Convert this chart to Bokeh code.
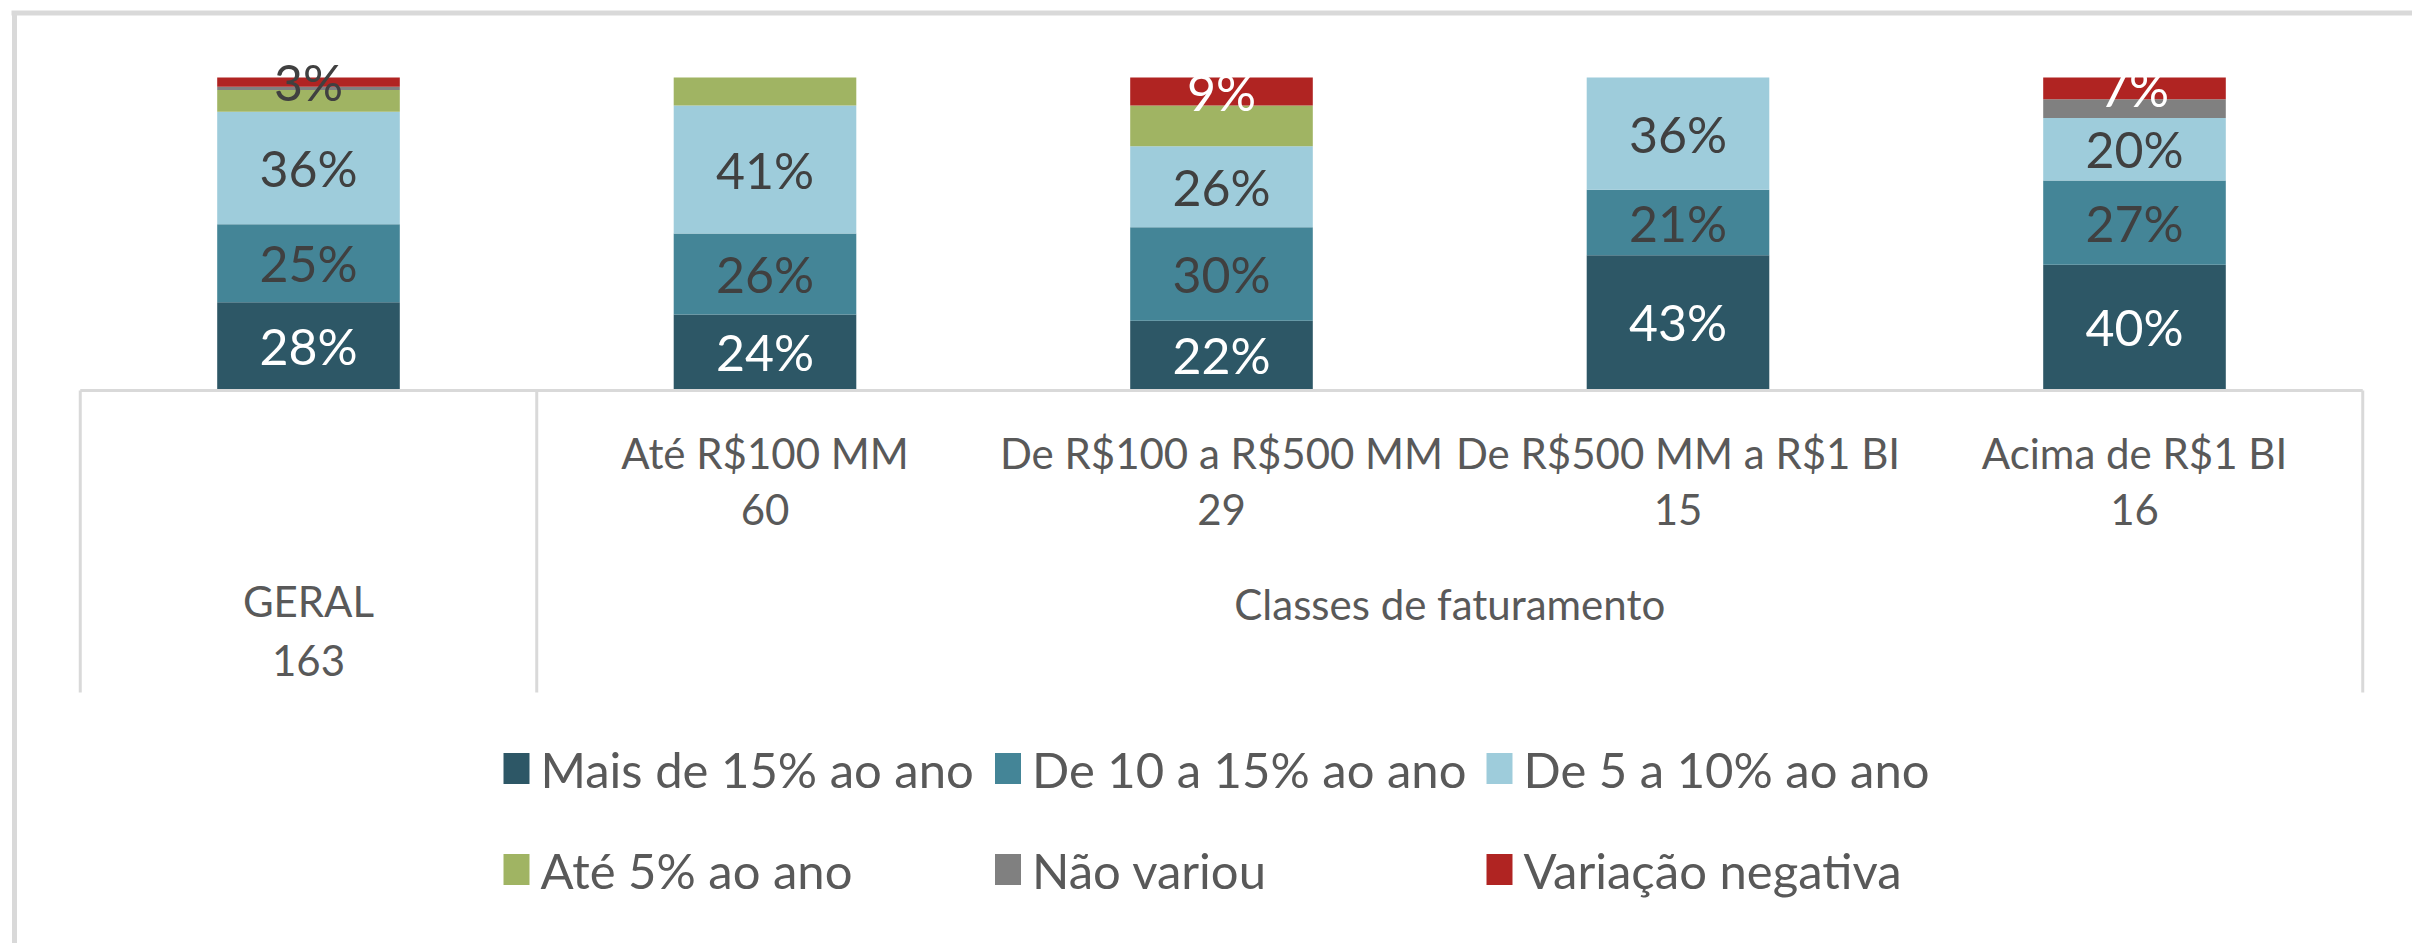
from bokeh.plotting import figure
from bokeh.models import ColumnDataSource, Range1d
from bokeh.core.properties import value
from bokeh.embed import file_html
from bokeh.resources import INLINE

# ---------------- data ----------------
categories = ["GERAL", "Até R$100 MM", "De R$100 a R$500 MM",
              "De R$500 MM a R$1 BI", "Acima de R$1 BI"]
counts = [163, 60, 29, 15, 16]
group_label = "Classes de faturamento"

series_names = ["Mais de 15% ao ano", "De 10 a 15% ao ano", "De 5 a 10% ao ano",
                "Até 5% ao ano", "Não variou", "Variação negativa"]
mais_15 = [28, 24, 22, 43, 40]
de_10_15 = [25, 26, 30, 21, 27]
de_5_10 = [36, 41, 26, 36, 20]
ate_5 = [7, 9, 13, 0, 0]
nao_variou = [1, 0, 0, 0, 6]
negativa = [3, 0, 9, 0, 7]

colors = ["#2D5766", "#448597", "#9ECCDB", "#A0B463", "#808080", "#B02422"]
# which series carry data labels, and the label colour per bar
labelled = {0: ["#FFFFFF"] * 5,
            1: ["#404040"] * 5,
            2: ["#404040"] * 5,
            5: ["#404040", "#FFFFFF", "#FFFFFF", "#FFFFFF", "#FFFFFF"]}

FONT = "Lato"
GRAY_TXT = "#595959"
LINE_GRAY = "#D9D9D9"

# ---------------- geometry ----------------
W, H = 2412, 943
XPX = 456.5          # pixels per category
X0PX = 308.0         # pixel position of first category centre
YPX = 3.12           # pixels per percentage point
Y0PX = 389.0         # pixel position of 0 %

x_start = -X0PX / XPX
x_end = x_start + W / XPX
y_top = Y0PX / YPX
y_bot = y_top - H / YPX


def dx(px):
    return x_start + px / XPX


def dy(py):
    return y_top - py / YPX


p = figure(width=W, height=H, output_backend="svg", toolbar_location=None,
           x_range=Range1d(x_start, x_end), y_range=Range1d(y_bot, y_top),
           x_axis_type=None, y_axis_type=None, min_border=0)
p.grid.visible = False
p.outline_line_color = None
p.background_fill_color = "white"
p.border_fill_color = "white"

# ---------------- stacked bars ----------------
xs = list(range(len(categories)))
keys = ["s0", "s1", "s2", "s3", "s4", "s5"]
data = dict(x=xs)
for k, vals in zip(keys, [mais_15, de_10_15, de_5_10, ate_5, nao_variou, negativa]):
    data[k] = vals
src = ColumnDataSource(data)
p.vbar_stack(keys, x="x", width=0.4, color=colors, line_color=None, source=src)

# data labels
all_vals = [mais_15, de_10_15, de_5_10, ate_5, nao_variou, negativa]
lx, ly, lt, lc = [], [], [], []
for j in range(len(categories)):
    base = 0
    for si, vals in enumerate(all_vals):
        v = vals[j]
        if si in labelled and v > 0:
            lx.append(j)
            ly.append(base + v / 2)
            lt.append(f"{v}%")
            lc.append(labelled[si][j])
        base += v
p.text(x=lx, y=ly, text=lt, text_color=lc, text_font=value(FONT),
       text_font_size="50px", text_align="center", text_baseline="middle")

# ---------------- frame / axis lines ----------------
p.line([dx(11), dx(W)], [dy(12.5), dy(12.5)], line_color=LINE_GRAY, line_width=5)
p.line([dx(14), dx(14)], [dy(12.5), dy(H)], line_color=LINE_GRAY, line_width=5)

axis_y = dy(390)
p.line([-0.5, len(categories) - 0.5], [axis_y, axis_y], line_color=LINE_GRAY, line_width=3)
for bx in [-0.5, 0.5, len(categories) - 0.5]:
    p.line([bx, bx], [axis_y, dy(692)], line_color=LINE_GRAY, line_width=3)

# ---------------- category labels ----------------
cx, cy, ct = [], [], []
for j in range(1, len(categories)):
    cx += [j, j]
    cy += [dy(452), dy(509)]
    ct += [categories[j], str(counts[j])]
cx += [0, 0]
cy += [dy(600), dy(660)]
ct += [categories[0], str(counts[0])]
cx.append((1 + len(categories) - 1) / 2)
cy.append(dy(603))
ct.append(group_label)
p.text(x=cx, y=cy, text=ct, text_color=GRAY_TXT, text_font=value(FONT),
       text_font_size="42px", text_align="center", text_baseline="middle")

# ---------------- legend ----------------
col_step = 491.5
mk_x, mk_y, tx_x = [], [], []
for i in range(len(series_names)):
    r, c = divmod(i, 3)
    ypx = 768 + r * 101
    mk_x.append(dx(503 + 13 + c * col_step))
    mk_y.append(dy(ypx))
    tx_x.append(dx(540 + c * col_step))
p.rect(x=mk_x, y=mk_y, width=26, height=31, width_units="screen",
       height_units="screen", fill_color=colors, line_color=None)
p.text(x=tx_x, y=mk_y, text=series_names, text_color=GRAY_TXT,
       text_font=value(FONT), text_font_size="49px", text_align="left",
       text_baseline="middle")

open("out.html", "w").write(file_html(p, INLINE))
